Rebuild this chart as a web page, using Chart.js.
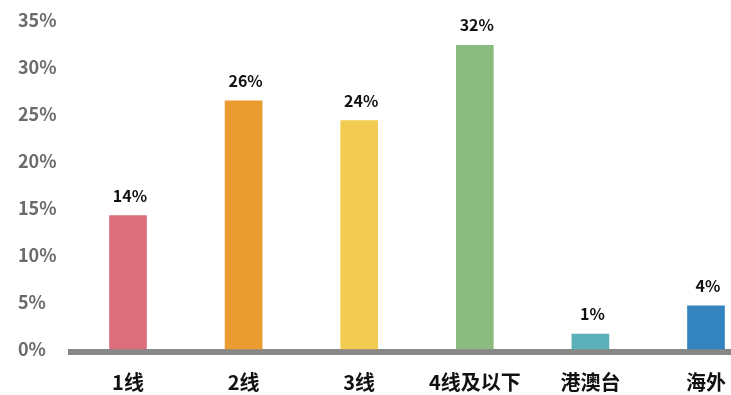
<!DOCTYPE html>
<html lang="zh">
<head>
    <meta charset="UTF-8">
    <title>城市分布</title>
    <script src="https://cdn.jsdelivr.net/npm/chart.js"></script>
    <style>
        body, html {
            margin: 0;
            background: #fff;
        }
        .chart-container {
            width: 731px;
            height: 395px;
        }
    </style>
</head>
<body>
    <div class="chart-container">
        <canvas id="cityChart"></canvas>
    </div>
    <script>
        const categories = ['1线', '2线', '3线', '4线及以下', '港澳台', '海外'];
        const shares = [14.2, 26.4, 24.3, 32.3, 1.6, 4.6];
        const shareLabels = ['14%', '26%', '24%', '32%', '1%', '4%'];
        const barColors = ['#dc6e7b', '#eb9c31', '#f2cc50', '#8bbb7f', '#5bb0b9', '#3283be'];
        const yTicks = [0, 5, 10, 15, 20, 25, 30, 35];

        const labelFont = '"Noto Sans CJK SC", "Noto Sans", sans-serif';

        // value labels above each bar
        const barLabels = {
            id: 'barLabels',
            afterDatasetsDraw(chart) {
                const ctx = chart.ctx;
                const meta = chart.getDatasetMeta(0);
                ctx.save();
                ctx.font = 'bold 16px ' + labelFont;
                ctx.fillStyle = '#111';
                ctx.textAlign = 'center';
                ctx.textBaseline = 'alphabetic';
                meta.data.forEach((bar, i) => {
                    ctx.fillText(shareLabels[i], bar.x + 2, bar.y - 14);
                });
                ctx.restore();
            }
        };

        // thick grey base line running under the bars
        const baseLine = {
            id: 'baseLine',
            beforeDatasetsDraw(chart) {
                const ctx = chart.ctx;
                const y = chart.scales.y.getPixelForValue(0);
                ctx.save();
                ctx.fillStyle = '#878787';
                ctx.fillRect(68, y, chart.width - 68, 6);
                ctx.restore();
            }
        };

        new Chart(document.getElementById('cityChart'), {
            type: 'bar',
            data: {
                labels: categories,
                datasets: [{
                    data: shares,
                    backgroundColor: barColors,
                    barThickness: 37,
                    clip: false
                }]
            },
            options: {
                responsive: true,
                maintainAspectRatio: false,
                animation: false,
                layout: {
                    padding: { left: 18, right: 25, top: 20, bottom: 0 }
                },
                plugins: {
                    legend: { display: false },
                    tooltip: { enabled: false }
                },
                scales: {
                    x: {
                        offset: false,
                        grid: { display: false, drawTicks: false },
                        border: { display: false },
                        ticks: {
                            color: '#111',
                            padding: 21,
                            maxRotation: 0,
                            font: { family: labelFont, size: 20, weight: 'bold' }
                        },
                        afterFit(scale) {
                            scale.height = 46;
                            scale.paddingLeft = 0;
                            scale.paddingRight = 0;
                        }
                    },
                    y: {
                        min: 0,
                        max: 35,
                        afterBuildTicks(scale) {
                            scale.ticks = yTicks.map(v => ({ value: v }));
                        },
                        grid: { display: false, drawTicks: false },
                        border: { display: false },
                        ticks: {
                            color: '#6b6b6b',
                            crossAlign: 'far',
                            font: { family: labelFont, size: 18, weight: 'bold' },
                            callback: v => v + '%'
                        },
                        afterFit(scale) { scale.width = 110; }
                    }
                }
            },
            plugins: [baseLine, barLabels]
        });
    </script>
</body>
</html>
